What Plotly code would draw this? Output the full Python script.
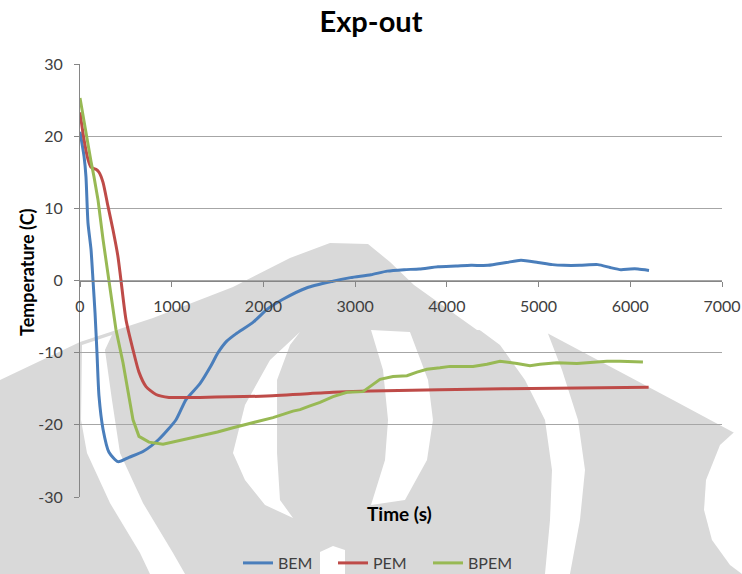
import plotly.graph_objects as go

# ---- measured series: time (s) and temperature (C) ----
bem_t = [0, 44, 65, 87, 120, 142, 164, 185, 207, 251, 316, 414, 534, 687, 861,
         1047, 1156, 1308, 1420, 1505, 1600, 1700, 1886, 2039, 2213, 2475, 2758,
         2950, 3172, 3350, 3533, 3700, 3903, 4100, 4263, 4449, 4650, 4808, 4993,
         5150, 5277, 5450, 5647, 5780, 5898, 6000, 6084, 6204]
bem_T = [20.6, 17.2, 14.4, 8.0, 4.3, 0.0, -4.5, -10.0, -16.0, -20.6, -23.8, -25.1,
         -24.5, -23.7, -22.0, -19.3, -16.5, -14.3, -12.0, -10.0, -8.4, -7.4, -5.8,
         -4.0, -2.6, -1.0, -0.1, 0.4, 0.8, 1.3, 1.5, 1.6, 1.9, 2.0, 2.1, 2.1, 2.5,
         2.8, 2.5, 2.2, 2.1, 2.1, 2.2, 1.8, 1.5, 1.6, 1.6, 1.4]

pem_t = [0, 44, 87, 120, 174, 207, 251, 305, 360, 414, 447, 501, 578, 643, 720,
         829, 970, 1156, 1308, 2039, 2758, 3172, 4623, 6200]
pem_T = [23.3, 19.5, 16.8, 15.7, 15.4, 15.0, 13.6, 10.3, 7.0, 3.3, 0.0, -5.4,
         -9.6, -12.7, -14.7, -15.8, -16.2, -16.2, -16.2, -16.0, -15.5, -15.3,
         -15.0, -14.8]

bpem_t = [0, 44, 87, 120, 152, 196, 251, 316, 392, 469, 523, 578, 643, 752, 905,
          1156, 1308, 1500, 1668, 1900, 2104, 2322, 2399, 2500, 2617, 2759, 2911,
          3086, 3162, 3271, 3413, 3565, 3674, 3783, 3925, 4034, 4143, 4285, 4437,
          4579, 4765, 4906, 5015, 5201, 5419, 5593, 5745, 5887, 6029, 6138]
bpem_T = [25.3, 21.9, 18.6, 16.5, 14.4, 11.2, 5.7, 0.0, -6.8, -11.4, -15.1, -19.3,
          -21.6, -22.4, -22.7, -22.0, -21.6, -21.0, -20.4, -19.6, -19.0, -18.1,
          -17.9, -17.4, -16.9, -16.1, -15.5, -15.4, -14.7, -13.7, -13.3, -13.2,
          -12.7, -12.3, -12.1, -11.9, -11.9, -11.9, -11.6, -11.2, -11.5, -11.8,
          -11.6, -11.4, -11.5, -11.3, -11.2, -11.2, -11.2, -11.3]

x_ticks = [0, 1000, 2000, 3000, 4000, 5000, 6000, 7000]
y_ticks = [-30, -20, -10, 0, 10, 20, 30]
y_tick_text = ["-30", "-20", "-10", "0", "10", "20", "30"]

FONT = "Lato"
W, H = 742, 574
ML, MR, MT, MB = 80, 20, 64, 77
PW, PH = W - ML - MR, H - MT - MB


def to_paper(px, py):
    return (px - ML) / PW, (H - MB - py) / PH


def poly_path(pts):
    coords = [to_paper(x, y) for x, y in pts]
    return "M " + " L ".join(f"{x:.4f},{y:.4f}" for x, y in coords) + " Z"


# background emblem (grey body with white cut-out bands), pixel outlines
emblem_grey = [(0, 380), (80, 342), (153, 318), (233, 287), (290, 258), (330, 243),
               (368, 244), (390, 262), (414, 285), (477, 330), (547, 333),
               (673, 400), (742, 437), (742, 574), (0, 574)]
emblem_cuts = [
    [(82, 345), (81, 420), (87, 453), (110, 503), (140, 553), (150, 574),
     (185, 574), (173, 553), (143, 503), (120, 453), (112, 400), (105, 350), (112, 335)],
    [(300, 332), (270, 360), (245, 405), (233, 453), (245, 480), (265, 505),
     (293, 518), (280, 500), (277, 453), (277, 380), (290, 345)],
    [(371, 330), (410, 332), (428, 380), (433, 420), (427, 460), (405, 500),
     (371, 505), (385, 460), (388, 420), (383, 370)],
    [(477, 328), (547, 331), (562, 370), (578, 420), (585, 470), (580, 520),
     (570, 574), (545, 574), (550, 520), (552, 470), (545, 420), (525, 380), (500, 345)],
    [(742, 425), (720, 445), (706, 480), (704, 510), (712, 540), (730, 565), (742, 574)],
    [(320, 552), (333, 546), (345, 550), (345, 574), (320, 574)],
]

shapes = [dict(type="path", xref="paper", yref="paper", path=poly_path(emblem_grey),
               fillcolor="#d9d9d9", line=dict(width=0), layer="below")]
for cut in emblem_cuts:
    shapes.append(dict(type="path", xref="paper", yref="paper", path=poly_path(cut),
                       fillcolor="white", line=dict(width=0), layer="below"))

fig = go.Figure()
fig.add_trace(go.Scatter(x=bem_t, y=bem_T, name="BEM", mode="lines",
                         line=dict(color="#4A7EBB", width=3, shape="spline", smoothing=0.6)))
fig.add_trace(go.Scatter(x=pem_t, y=pem_T, name="PEM", mode="lines",
                         line=dict(color="#BE4B48", width=3, shape="spline", smoothing=0.6)))
fig.add_trace(go.Scatter(x=bpem_t, y=bpem_T, name="BPEM", mode="lines",
                         line=dict(color="#98B954", width=3)))

fig.update_layout(
    width=W, height=H,
    margin=dict(l=ML, r=MR, t=MT, b=MB, autoexpand=False),
    paper_bgcolor="white",
    plot_bgcolor="rgba(0,0,0,0)",
    font=dict(family=FONT, size=16, color="#404040"),
    title=dict(text="<b>Exp-out</b>", x=0.5, xref="container", xanchor="center",
               y=1 - 22 / H, yref="container", yanchor="middle",
               font=dict(family=FONT, size=29, color="black")),
    xaxis=dict(range=[0, 7000], tickvals=x_ticks, showgrid=False, zeroline=False,
               showline=True, linecolor="#868686", linewidth=1,
               ticks="outside", ticklen=5, tickcolor="#868686", ticklabelstandoff=6,
               anchor="free", position=0.5,
               tickfont=dict(family=FONT, size=16, color="#404040")),
    yaxis=dict(range=[-30, 30], tickvals=y_ticks, ticktext=y_tick_text,
               showgrid=True, gridcolor="#a6a6a6",
               gridwidth=1, zeroline=False, showline=True, linecolor="#868686",
               ticks="outside", ticklen=5, tickcolor="#868686", ticklabelstandoff=8,
               tickfont=dict(family=FONT, size=16, color="#404040")),
    legend=dict(orientation="h", x=(238 - ML) / PW, xanchor="left",
                y=(H - MB - 563) / PH, yanchor="middle",
                font=dict(family=FONT, size=16, color="#404040"),
                bgcolor="rgba(0,0,0,0)", entrywidth=50, entrywidthmode="pixels"),
    shapes=shapes,
    annotations=[
        dict(text="<b>Temperature (C)</b>", xref="paper", yref="paper",
             x=(27 - ML) / PW, y=(H - MB - 272) / PH, xanchor="center", yanchor="middle",
             showarrow=False, textangle=-90,
             font=dict(family=FONT, size=18, color="black")),
        dict(text="<b>Time (s)</b>", xref="paper", yref="paper",
             x=(399 - ML) / PW, y=(H - MB - 513) / PH, xanchor="center", yanchor="middle",
             showarrow=False,
             font=dict(family=FONT, size=19, color="black")),
    ],
)

fig.write_html("out.html")
